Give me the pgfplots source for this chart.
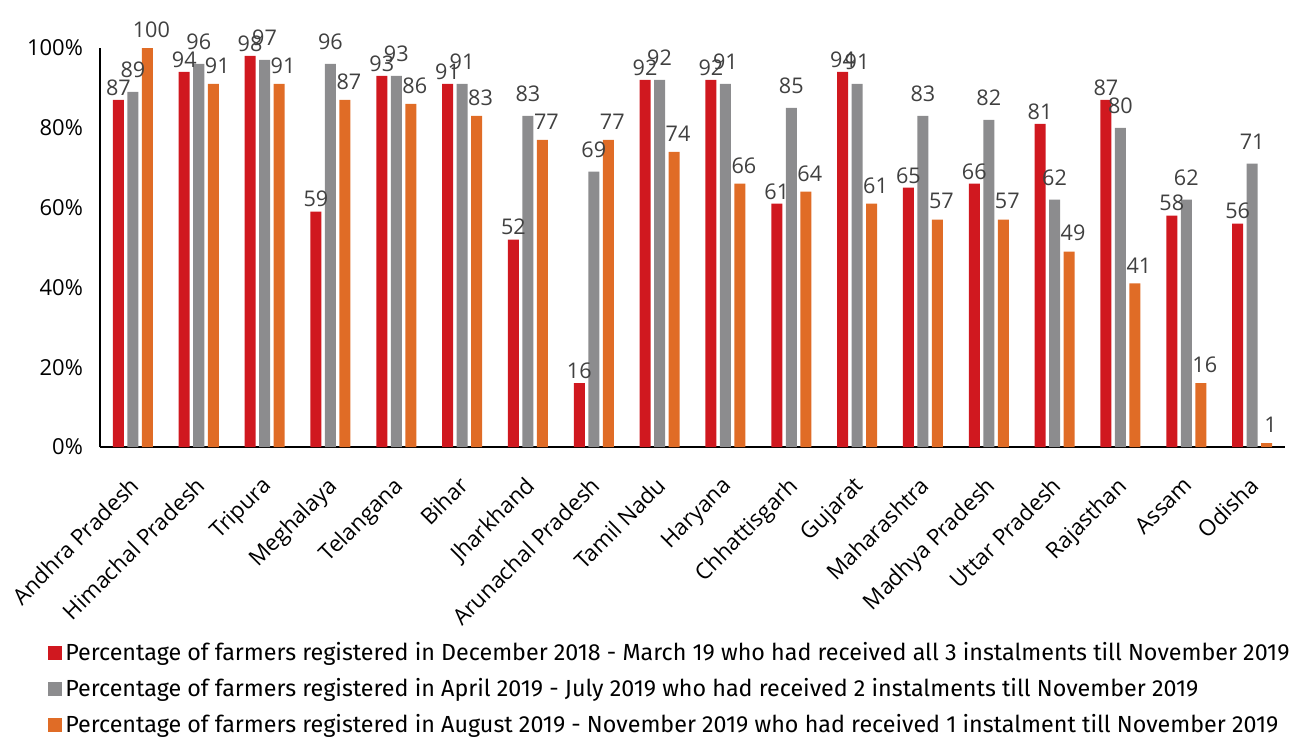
\documentclass[border=0pt]{standalone}
\usepackage{pgfplots}
\usepackage{pgfplotstable}
\pgfplotsset{compat=1.18}
\usepackage{fontspec}
\setmainfont{Open Sans}
\newfontfamily\legfont{Fira Sans}
\definecolor{cred}{HTML}{D0181F}
\definecolor{cgrey}{HTML}{8C8C8E}
\definecolor{corange}{HTML}{E06C26}
\definecolor{lbl}{HTML}{404040}
\pgfplotstableread{
x r g o
0 87 89 100
1 94 96 91
2 98 97 91
3 59 96 87
4 93 93 86
5 91 91 83
6 52 83 77
7 16 69 77
8 92 92 74
9 92 91 66
10 61 85 64
11 94 91 61
12 65 83 57
13 66 82 57
14 81 62 49
15 87 80 41
16 58 62 16
17 56 71 1
}\data
\begin{document}
\begin{tikzpicture}
\useasboundingbox (-50pt,-144.5pt) rectangle (596.5pt,223.5pt);
\begin{axis}[
  at={(0,0)}, anchor=south west,
  scale only axis, width=592.5pt, height=199.5pt,
  ymin=0, ymax=100, xmin=-0.5, xmax=17.5,
  ybar=1.75pt, bar width=5.5pt,
  axis x line*=bottom, axis y line*=left,
  axis line style={line width=0.8pt, black, -},
  ytick={0,20,...,100},
  yticklabel={\pgfmathprintnumber{\tick}\%},
  /pgf/number format/assume math mode=true,
  y tick label style={font=\fontsize{11}{13}\selectfont, xshift=-5pt},
  tick style={draw=none},
  xtick=data,
  xticklabels={Andhra Pradesh, Himachal Pradesh, Tripura, Meghalaya, Telangana, Bihar, Jharkhand, Arunachal Pradesh, Tamil Nadu, Haryana, Chhattisgarh, Gujarat, Maharashtra, Madhya Pradesh, Uttar Pradesh, Rajasthan, Assam, Odisha},
  x tick label style={rotate=45, anchor=north east, font=\fontsize{11.2}{13}\selectfont, xshift=-5pt, yshift=-2pt},
  nodes near coords,
  nodes near coords style={font=\fontsize{10.8}{12}\selectfont, color=lbl, inner sep=2pt},
  clip=false,
  legend style={at={(axis description cs:-0.044,-0.482)}, anchor=north west, draw=none, fill=none,
    font=\legfont\fontsize{11.65}{13}\selectfont, row sep=4.3pt, inner sep=0pt,
    nodes={inner sep=1.5pt}},
  legend cell align=left,
  legend image code/.code={\fill[#1] (0pt,-3.5pt) rectangle (7pt,3.5pt);},
]
\addplot[fill=cred, draw=none] table[x=x, y=r] {\data};
\addplot[fill=cgrey, draw=none, nodes near coords style={yshift=5pt}] table[x=x, y=g] {\data};
\addplot[fill=corange, draw=none, nodes near coords style={yshift=3pt, xshift=2pt}] table[x=x, y=o] {\data};
\legend{Percentage of farmers registered in December 2018 - March 19 who had received all 3 instalments till November 2019,
Percentage of farmers registered in April 2019 - July 2019 who had received 2 instalments till November 2019,
Percentage of farmers registered in August 2019 - November 2019 who had received 1 instalment till November 2019}
\end{axis}
\end{tikzpicture}
\end{document}
